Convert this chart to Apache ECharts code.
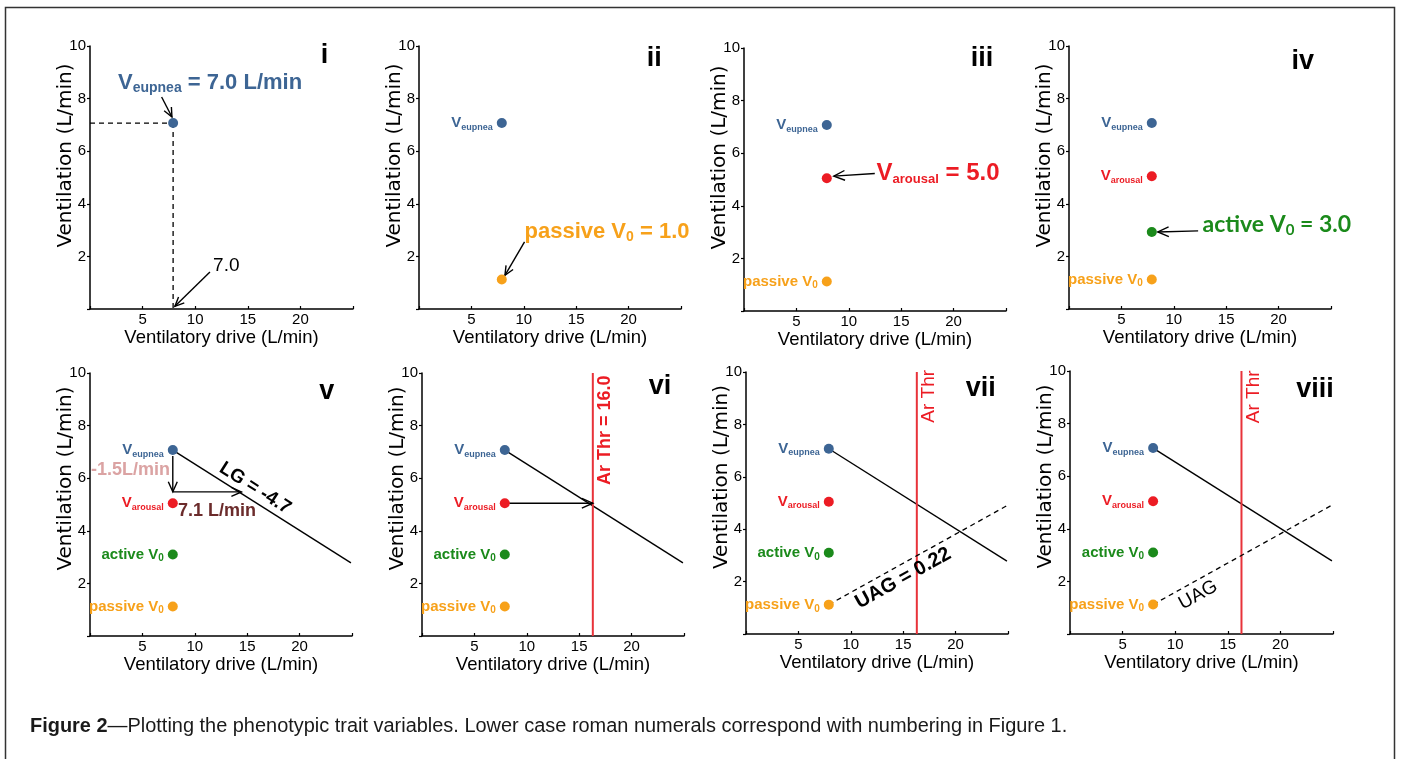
<!DOCTYPE html>
<html><head><meta charset="utf-8">
<script src="https://cdn.jsdelivr.net/npm/echarts@6/dist/echarts.min.js"></script>
<style>html,body{margin:0;padding:0;background:#fff;}#c{width:1401px;height:759px;}</style>
</head><body><div id="c"></div>
<script>
// ---------------- data ----------------
const xTicks = [5, 10, 15, 20];
const yTicks = [2, 4, 6, 8, 10];
const panelNames = ['i', 'ii', 'iii', 'iv', 'v', 'vi', 'vii', 'viii'];
const driveEupnea = 7.9;          // ventilatory drive at eupnea (L/min)
const vEupnea = 7.07;             // V eupnea
const vArousal = 5.05;            // V arousal
const passiveV0 = 1.12;           // passive V0
const activeV0 = [null, null, null, 2.93, 3.1, 3.1, 3.1, 3.1]; // active V0 per panel
const arThr = 16.3;               // arousal threshold (drive)
const lgLine = [[7.9, 7.07], [24.9, 2.78]];   // loop gain line
const uagLine = [[7.9, 1.12], [24.9, 4.9]];   // UAG line
const lgStep = [[7.9, 7.07], [7.9, 5.48], [14.45, 5.48]]; // -1.5 then 7.1 step
const pointsShown = [['eu'], ['eu', 'pa'], ['eu', 'ar', 'pa'], ['eu', 'ar', 'ac', 'pa'],
  ['eu', 'ar', 'ac', 'pa'], ['eu', 'ar', 'ac', 'pa'], ['eu', 'ar', 'ac', 'pa'], ['eu', 'ar', 'ac', 'pa']];
const smallLabelsShown = [[], ['eu'], ['eu', 'pa'], ['eu', 'ar', 'pa'],
  ['eu', 'ar', 'ac', 'pa'], ['eu', 'ar', 'ac', 'pa'], ['eu', 'ar', 'ac', 'pa'], ['eu', 'ar', 'ac', 'pa']];
const txt = {
  xName: 'Ventilatory drive (L/min)', yName: 'Ventilation (L/min)',
  eupneaVal: ' = 7.0 L/min', driveVal: '7.0', passiveVal: ' = 1.0', arousalVal: ' = 5.0', activeVal: ' = 3.0',
  dV: '-1.5L/min', dDrive: '7.1 L/min', lg: 'LG = -4.7', arThrVal: 'Ar Thr = 16.0', arThr: 'Ar Thr',
  uagVal: 'UAG = 0.22', uag: 'UAG',
  caption1: 'Figure 2', caption2: '\u2014Plotting the phenotypic trait variables. Lower case roman numerals correspond with numbering in Figure 1.'
};

// ---------------- styles / layout ----------------
const C = { blue: '#3d6594', red: '#ec1c24', green: '#1b8a1b', orange: '#f7a11a', pink: '#dba3a3',
  brown: '#6b2b2b', thr: '#e8333a', ink: '#000' };
const FONT = '"Liberation Sans", Arial, sans-serif';
const gridBoxes = [
  { left: 90, top: 46, width: 263, height: 263 }, { left: 419, top: 46, width: 262, height: 263 },
  { left: 744, top: 48, width: 262, height: 263 }, { left: 1069, top: 46, width: 262, height: 263 },
  { left: 90, top: 373, width: 262, height: 263 }, { left: 422, top: 373, width: 262, height: 263 },
  { left: 746, top: 372, width: 262, height: 262 }, { left: 1070, top: 371, width: 263, height: 263 }
];
const numeralPos = [[22.3, 9.65], [22.45, 9.53], [22.7, 9.6], [22.3, 9.39], [22.6, 9.28], [22.7, 9.47], [22.4, 9.38], [23.3, 9.3]];

// caption size fitted to the reference caption width
function captionSize(targetW) {
  const ctx = document.createElement('canvas').getContext('2d');
  ctx.font = 'bold 100px ' + FONT;
  const w1 = ctx.measureText(txt.caption1).width;
  ctx.font = '100px ' + FONT;
  const w2 = ctx.measureText(txt.caption2).width;
  return 100 * targetW / (w1 + w2);
}
const capSize = captionSize(1038);

const colorOf = { eu: C.blue, ar: C.red, ac: C.green, pa: C.orange };
function ptOf(k, p) {
  if (k === 'eu') return [driveEupnea, vEupnea];
  if (k === 'ar') return [driveEupnea, vArousal];
  if (k === 'ac') return [driveEupnea, activeV0[p]];
  return [driveEupnea, passiveV0];
}
const smallSpec = {
  eu: { main: 'V', sub: 'eupnea', color: C.blue, F: 15, f: 9, drop: 1.5 },
  ar: { main: 'V', sub: 'arousal', color: C.red, F: 15, f: 9, drop: 1.5 },
  ac: { main: 'active V', sub: '0', color: C.green, F: 15, f: 10, drop: 2.5 },
  pa: { main: 'passive V', sub: '0', color: C.orange, F: 15, f: 10, drop: 2.5 }
};

function subText(pt, s, align, extra) {
  const k = 0.33;
  const L = Math.max(s.F + 2, 2 * (s.drop + k * s.F + s.f / 2 - k * s.f));
  const fam = s.family || FONT;
  let t = '{m|' + s.main + '}{s|' + s.sub + '}';
  if (s.tail) t += '{m|' + s.tail + '}';
  return Object.assign({
    type: 'text', x: pt[0], y: pt[1], silent: true,
    style: {
      text: t, align: align, verticalAlign: 'middle',
      rich: {
        m: { fontSize: s.F, fontWeight: 'bold', fontFamily: fam, fill: s.color, lineHeight: s.F },
        s: { fontSize: s.f, fontWeight: 'bold', fontFamily: fam, fill: s.color, lineHeight: L, verticalAlign: 'bottom' }
      }
    }
  }, extra || {});
}
function plainText(pt, text, o) {
  return {
    type: 'text', x: pt[0], y: pt[1], rotation: o.rotation || 0, silent: true,
    style: { text: text, align: o.align || 'center', verticalAlign: o.va || 'middle', fill: o.color || C.ink,
      fontSize: o.size, fontWeight: o.weight || 'normal', fontFamily: o.family || FONT }
  };
}
function seg(a, b, o) {
  return { type: 'line', silent: true, shape: { x1: a[0], y1: a[1], x2: b[0], y2: b[1] },
    style: { stroke: o.color || C.ink, lineWidth: o.width || 1.4, lineDash: o.dash || null } };
}
function arrow(a, b, o) {
  o = o || {};
  const ang = Math.atan2(b[1] - a[1], b[0] - a[0]);
  const L = o.head || 12, w = 0.42;
  const h1 = [b[0] - L * Math.cos(ang - w), b[1] - L * Math.sin(ang - w)];
  const h2 = [b[0] - L * Math.cos(ang + w), b[1] - L * Math.sin(ang + w)];
  return [seg(a, b, o), { type: 'polyline', silent: true, shape: { points: [h1, b, h2] },
    style: { stroke: o.color || C.ink, lineWidth: o.width || 1.4, fill: null } }];
}
function lineAngle(api, line) {
  const a = api.coord(line[0]), b = api.coord(line[1]);
  return -Math.atan2(b[1] - a[1], b[0] - a[0]);
}

function drawPanel(p, api) {
  const c = (x, y) => api.coord([x, y]);
  const ch = [];
  ch.push(plainText(c(numeralPos[p][0], numeralPos[p][1]), panelNames[p], { size: 27, weight: 'bold' }));
  smallLabelsShown[p].forEach(k => {
    const q = c(...ptOf(k, p));
    ch.push(subText([q[0] - 9, q[1]], smallSpec[k], 'right'));
  });
  if (p === 0) {
    const e = c(driveEupnea, vEupnea);
    ch.push(seg(c(0, vEupnea), e, { dash: [5, 4], width: 1.3 }));
    ch.push(seg(e, c(driveEupnea, 0), { dash: [5, 4], width: 1.3 }));
    ch.push(subText(c(2.66, 8.58), { main: 'V', sub: 'eupnea', tail: txt.eupneaVal, color: C.blue, F: 22, f: 14, drop: 2.5 }, 'left'));
    ch.push(...arrow(c(6.81, 8.06), c(7.79, 7.3), { head: 10 }));
    ch.push(plainText(c(11.7, 1.66), txt.driveVal, { size: 19, align: 'left' }));
    ch.push(...arrow(c(11.4, 1.41), c(8.07, 0.1), { head: 10 }));
  }
  if (p === 1) {
    ch.push(subText(c(10.07, 2.93), { main: 'passive V', sub: '0', tail: txt.passiveVal, color: C.orange, F: 22, f: 14, drop: 3 }, 'left'));
    ch.push(...arrow(c(10.07, 2.55), c(8.2, 1.28), { head: 10 }));
  }
  if (p === 2) {
    ch.push(subText(c(12.65, 5.24), { main: 'V', sub: 'arousal', tail: txt.arousalVal, color: C.red, F: 24, f: 13, drop: 3 }, 'left'));
    ch.push(...arrow(c(12.48, 5.23), c(8.57, 5.13), { head: 12 }));
  }
  if (p === 3) {
    ch.push(subText(c(12.74, 3.2), { main: 'active V', sub: '0', tail: txt.activeVal, color: C.green, F: 23, f: 15, drop: 3, family: 'Lato, "Open Sans", sans-serif' }, 'left'));
    ch.push(...arrow(c(12.32, 2.97), c(8.47, 2.93), { head: 12 }));
  }
  if (p >= 4) {
    ch.push(seg(c(...lgLine[0]), c(...lgLine[1]), { width: 1.4 }));
  }
  if (p === 4) {
    const s0 = c(...lgStep[0]);
    ch.push(...arrow([s0[0], s0[1] + 6], c(...lgStep[1]), { head: 11 }));
    ch.push(...arrow(c(...lgStep[1]), c(...lgStep[2]), { head: 11 }));
    ch.push(plainText(c(7.64, 6.3), txt.dV, { size: 18, weight: 'bold', color: C.pink, align: 'right' }));
    ch.push(plainText(c(8.4, 4.76), txt.dDrive, { size: 18, weight: 'bold', color: C.brown, align: 'left' }));
    ch.push(plainText(c(15.76, 5.62), txt.lg, { size: 19, weight: 'bold', rotation: lineAngle(api, lgLine) }));
  }
  if (p >= 5) {
    ch.push(seg(c(arThr, 0), c(arThr, 10), { color: C.thr, width: 2 }));
  }
  if (p === 5) {
    ch.push(...arrow(c(driveEupnea, vArousal), c(arThr, vArousal), { head: 12 }));
    ch.push(plainText(c(17.5, 7.82), txt.arThrVal, { size: 18, weight: 'bold', color: C.red, rotation: Math.PI / 2 }));
  }
  if (p >= 6) {
    ch.push(seg(c(...uagLine[0]), c(...uagLine[1]), { dash: [5, 4], width: 1.3 }));
    ch.push(plainText(c(p === 6 ? 17.4 : 17.5, p === 6 ? 9.07 : 9.02), txt.arThr, { size: 19, color: C.red, rotation: Math.PI / 2 }));
  }
  if (p === 6) {
    ch.push(plainText(c(15.0, 2.13), txt.uagVal, { size: 20, weight: 'bold', rotation: lineAngle(api, uagLine) }));
  }
  if (p === 7) {
    ch.push(plainText(c(12.19, 1.48), txt.uag, { size: 19, rotation: lineAngle(api, uagLine) }));
  }
  return ch;
}

// ---------------- option ----------------
const option = {
  animation: false, backgroundColor: '#fff',
  title: {
    left: 25, top: 724 - capSize * 0.62,
    text: '{b|' + txt.caption1 + '}{r|' + txt.caption2 + '}',
    textStyle: { rich: {
      b: { fontFamily: FONT, fontWeight: 'bold', fontSize: capSize, color: '#1a1a1a' },
      r: { fontFamily: FONT, fontWeight: 'normal', fontSize: capSize, color: '#1a1a1a' } } }
  },
  graphic: [{ type: 'rect', silent: true, shape: { x: 5.5, y: 7.5, width: 1389, height: 800 },
    style: { fill: 'none', stroke: '#333', lineWidth: 1.5 } }],
  grid: [], xAxis: [], yAxis: [], series: []
};

panelNames.forEach((nm, p) => {
  const g = gridBoxes[p];
  option.grid.push({ left: g.left, top: g.top, width: g.width, height: g.height });
  option.xAxis.push({
    gridIndex: p, type: 'value', min: 0, max: 25, interval: 5,
    axisLine: { onZero: false, lineStyle: { color: '#000', width: 1.5 } },
    axisTick: { show: true, inside: true, length: 3, lineStyle: { color: '#000', width: 1.2 } },
    splitLine: { show: false },
    axisLabel: { color: '#000', fontSize: 15, fontFamily: FONT, margin: 3,
      formatter: v => (xTicks.includes(v) ? String(v) : '') },
    name: txt.xName, nameLocation: 'middle', nameGap: 19, nameMoveOverlap: false,
    nameTextStyle: { color: '#000', fontSize: 18.5, fontFamily: FONT }
  });
  option.yAxis.push({
    gridIndex: p, type: 'value', min: 0, max: 10, interval: 2,
    axisLine: { onZero: false, lineStyle: { color: '#000', width: 1.5 } },
    axisTick: { show: true, length: 3, lineStyle: { color: '#000', width: 1.2 } },
    splitLine: { show: false },
    axisLabel: { color: '#000', fontSize: 15, fontFamily: FONT, margin: 4,
      formatter: v => (yTicks.includes(v) ? String(v) : '') },
    name: txt.yName, nameLocation: 'middle', nameGap: 14, nameMoveOverlap: false,
    nameTextStyle: { color: '#000', fontSize: 20, fontFamily: '"DejaVu Sans", sans-serif',
      padding: [0, 0, 0, p < 4 ? 44 : 52] }
  });
  option.series.push({
    type: 'custom', coordinateSystem: 'cartesian2d', xAxisIndex: p, yAxisIndex: p, z: 3, silent: true,
    clip: false, data: [[0, 0]],
    renderItem: (params, api) => ({ type: 'group', children: drawPanel(p, api) })
  });
  option.series.push({
    type: 'scatter', xAxisIndex: p, yAxisIndex: p, z: 5, symbolSize: 10, silent: true,
    data: pointsShown[p].map(k => ({ value: ptOf(k, p), itemStyle: { color: colorOf[k], opacity: 1 } }))
  });
});

const chart = echarts.init(document.getElementById('c'));
chart.setOption(option);
</script></body></html>
